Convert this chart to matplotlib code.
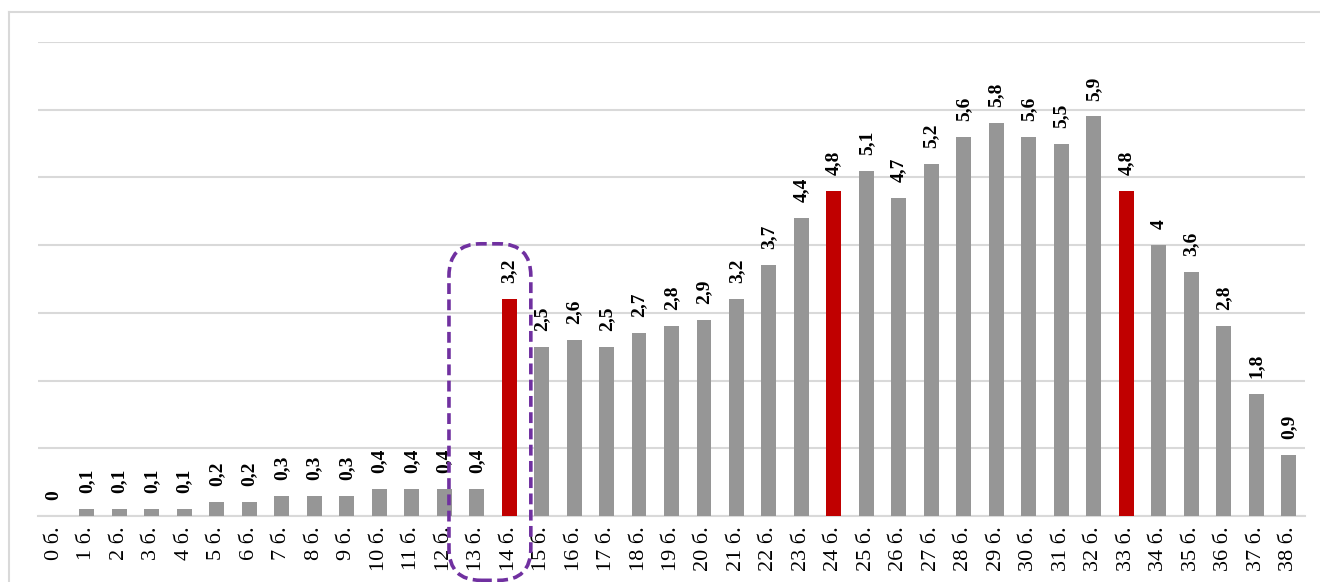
import matplotlib.pyplot as plt
from matplotlib.patches import FancyBboxPatch
from matplotlib.lines import Line2D
from matplotlib.transforms import IdentityTransform

# data
categories = [f"{i} б." for i in range(39)]
values = [0, 0.1, 0.1, 0.1, 0.1, 0.2, 0.2, 0.3, 0.3, 0.3, 0.4, 0.4, 0.4, 0.4,
          3.2, 2.5, 2.6, 2.5, 2.7, 2.8, 2.9, 3.2, 3.7, 4.4, 4.8, 5.1, 4.7, 5.2,
          5.6, 5.8, 5.6, 5.5, 5.9, 4.8, 4, 3.6, 2.8, 1.8, 0.9]
highlight = [14, 24, 33]

GRAY = "#969696"
RED = "#C00000"
GRID = "#D9D9D9"

plt.rcParams['font.family'] = ['Liberation Serif', 'DejaVu Serif']

fig = plt.figure(figsize=(13.2, 5.82), dpi=100)
W, H = 1320, 582
ax = fig.add_axes([38 / W, 1 - 516 / H, (1305 - 38) / W, (516 - 42) / H])

x = list(range(len(values)))
colors = [RED if i in highlight else GRAY for i in x]
ax.bar(x, values, width=0.46, color=colors, zorder=3)

for xi, v in zip(x, values):
    lab = f"{v:g}".replace(".", ",")
    ax.annotate(lab, (xi, v), xytext=(0, 11.5), textcoords="offset points",
                rotation=90, ha="center", va="bottom", fontsize=14,
                fontweight="bold", zorder=4)

ax.set_xlim(-0.5, len(values) - 0.5)
ax.set_ylim(0, 7)
ax.set_yticks(range(0, 8))
ax.set_yticklabels([])
ax.tick_params(axis="y", length=0)
ax.grid(axis="y", color=GRID, linewidth=1.5, zorder=0)
ax.set_xticks(x)
ax.set_xticklabels(categories, rotation=90, fontsize=16, va="top")
ax.tick_params(axis="x", length=0, pad=7.5)
for s in ["top", "right", "left"]:
    ax.spines[s].set_visible(False)
ax.spines["bottom"].set_color(GRID)
ax.spines["bottom"].set_linewidth(1.5)

# outer chart frame (top and left edges visible)
fig.add_artist(Line2D([9 / W, 1], [1 - 12 / H, 1 - 12 / H], color=GRID,
                      linewidth=1.5, transform=fig.transFigure))
fig.add_artist(Line2D([9 / W, 9 / W], [0, 1 - 12 / H], color=GRID,
                      linewidth=1.5, transform=fig.transFigure))

# dashed rounded callout around 14 б.
fig.canvas.draw()
(x0, y0) = ax.transData.transform((12.15, -0.95))
(x1, y1) = ax.transData.transform((14.67, 4.02))
box = FancyBboxPatch((x0, y0), x1 - x0, y1 - y0,
                     boxstyle="round,pad=0,rounding_size=32",
                     transform=IdentityTransform(), fill=False,
                     edgecolor="#7030A0", linewidth=2.6, linestyle=(0, (3, 1.5)),
                     zorder=10)
fig.add_artist(box)

fig.savefig("out.png", dpi=100)
